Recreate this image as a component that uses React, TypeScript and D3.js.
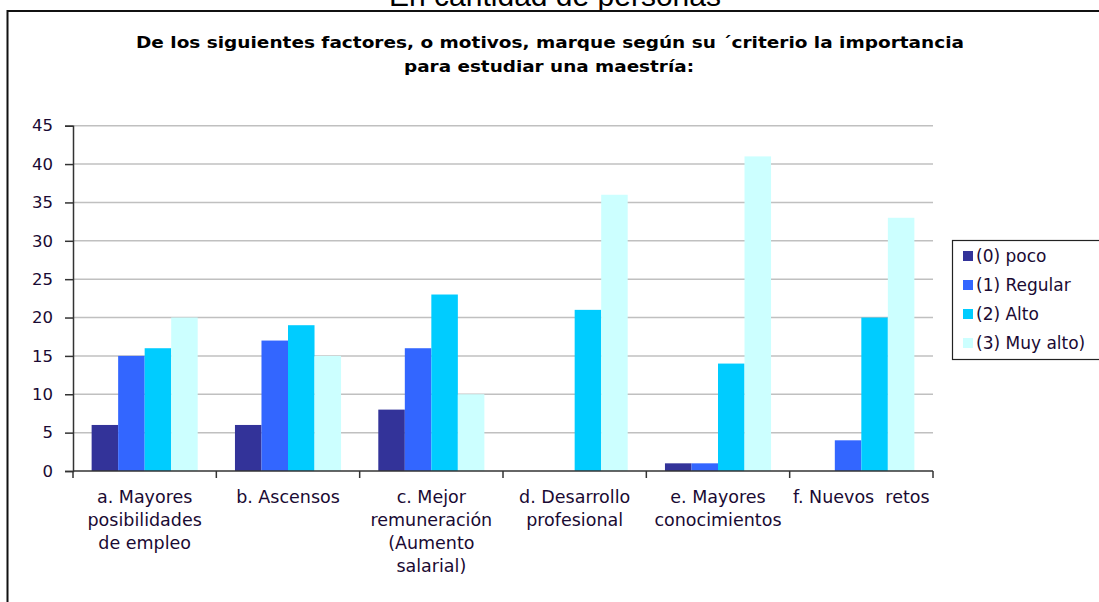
import React, { useEffect, useRef } from "react";
import * as d3 from "d3";

const categories = [
  ["a. Mayores", "posibilidades", "de empleo"],
  ["b. Ascensos"],
  ["c. Mejor", "remuneración", "(Aumento", "salarial)"],
  ["d. Desarrollo", "profesional"],
  ["e. Mayores", "conocimientos"],
  ["f. Nuevos  retos"],
];
const seriesNames = ["(0) poco", "(1) Regular", "(2) Alto", "(3) Muy alto)"];
const poco = [6, 6, 8, 0, 1, 0];
const regular = [15, 17, 16, 0, 1, 4];
const alto = [16, 19, 23, 21, 14, 20];
const muyAlto = [20, 15, 10, 36, 41, 33];
const yTicks = [0, 5, 10, 15, 20, 25, 30, 35, 40, 45];
const colors = ["#333399", "#3366FF", "#00CCFF", "#CCFFFF"];

const App = () => {
  const ref = useRef<SVGSVGElement>(null);

  useEffect(() => {
    const width = 1099, height = 602;
    const svg = d3.select(ref.current).attr("width", width).attr("height", height);
    svg.selectAll("*").remove();

    const font = "DejaVu Sans, Verdana, sans-serif";
    const textColor = "#1a0a33";
    const series = [poco, regular, alto, muyAlto];
    const left = 73, right = 933, top = 125.7, bottom = 471;

    // outer caption, cut at the top like the original crop
    svg.append("text")
      .attr("x", 555).attr("y", 6)
      .attr("text-anchor", "middle")
      .attr("font-family", "Liberation Sans, Arial, sans-serif")
      .attr("font-size", 30)
      .text("En cantidad de personas");

    // chart frame
    svg.append("rect")
      .attr("x", 7.5).attr("y", 11)
      .attr("width", 1110).attr("height", 610)
      .attr("fill", "white").attr("stroke", "#111").attr("stroke-width", 2);

    const title = svg.append("text")
      .attr("text-anchor", "middle")
      .attr("font-family", font)
      .attr("font-weight", "bold")
      .attr("font-size", 15.5)
      .attr("fill", "#000");
    title.append("tspan").attr("x", 550).attr("y", 48)
      .attr("textLength", 828).attr("lengthAdjust", "spacingAndGlyphs")
      .text("De los siguientes factores, o motivos, marque según su ´criterio la importancia");
    title.append("tspan").attr("x", 549).attr("y", 72)
      .attr("textLength", 290).attr("lengthAdjust", "spacingAndGlyphs")
      .text("para estudiar una maestría:");

    const x0 = d3.scaleBand<number>()
      .domain(d3.range(categories.length))
      .range([left, right])
      .paddingInner(0.26)
      .paddingOuter(0.13);
    const x1 = d3.scaleBand<number>()
      .domain(d3.range(series.length))
      .range([0, x0.bandwidth()]);
    const y = d3.scaleLinear().domain([0, 45]).range([bottom, top]);

    // gridlines
    svg.append("g").selectAll("line")
      .data(yTicks.filter(d => d > 0))
      .enter().append("line")
      .attr("x1", left).attr("x2", right)
      .attr("y1", d => y(d)).attr("y2", d => y(d))
      .attr("stroke", "#c0c0c0").attr("stroke-width", 1.5);

    // bars
    series.forEach((vals, s) => {
      svg.append("g").selectAll("rect")
        .data(vals)
        .enter().append("rect")
        .attr("x", (d, i) => (x0(i) as number) + (x1(s) as number))
        .attr("y", d => y(d))
        .attr("width", x1.bandwidth())
        .attr("height", d => bottom - y(d))
        .attr("fill", colors[s]);
    });

    // y axis
    const yAxis = svg.append("g")
      .attr("transform", `translate(${left},0)`)
      .call(d3.axisLeft(y).tickValues(yTicks).tickSize(8).tickPadding(12));
    yAxis.select(".domain").attr("stroke", "#333").attr("stroke-width", 1.5);
    yAxis.selectAll(".tick line").attr("stroke", "#333").attr("stroke-width", 1.5);
    yAxis.selectAll("text")
      .attr("font-family", font).attr("font-size", 16.5).attr("fill", textColor);

    // x axis
    const step = x0.step();
    const boundaries = d3.range(categories.length + 1).map(i => left + i * step);
    svg.append("line")
      .attr("x1", left).attr("x2", right)
      .attr("y1", bottom).attr("y2", bottom)
      .attr("stroke", "#333").attr("stroke-width", 1.5);
    svg.append("g").selectAll("line")
      .data(boundaries)
      .enter().append("line")
      .attr("x1", d => d).attr("x2", d => d)
      .attr("y1", bottom).attr("y2", bottom + 7)
      .attr("stroke", "#333").attr("stroke-width", 1.5);

    categories.forEach((lines, i) => {
      const cx = left + (i + 0.5) * step;
      const t = svg.append("text")
        .attr("text-anchor", "middle")
        .attr("font-family", font)
        .attr("font-size", 17.5)
        .attr("fill", textColor);
      lines.forEach((ln, j) => {
        t.append("tspan").attr("x", cx).attr("y", 503 + j * 23).attr("xml:space", "preserve").text(ln);
      });
    });

    // legend
    const lg = svg.append("g").attr("transform", "translate(952,240)");
    lg.append("rect")
      .attr("x", 0.5).attr("y", 0.5).attr("width", 150).attr("height", 119)
      .attr("fill", "white").attr("stroke", "#222").attr("stroke-width", 1.2);
    seriesNames.forEach((name, i) => {
      const row = lg.append("g").attr("transform", `translate(0,${16 + i * 29})`);
      row.append("rect")
        .attr("x", 11).attr("y", -5).attr("width", 10).attr("height", 10)
        .attr("fill", colors[i]);
      row.append("text")
        .attr("x", 24).attr("y", 6)
        .attr("font-family", font).attr("font-size", 17)
        .attr("fill", textColor)
        .text(name);
    });
  }, []);

  return (
    <svg ref={ref} style={{ position: "absolute", left: 0, top: 0 }}></svg>
  );
};

export default App;
